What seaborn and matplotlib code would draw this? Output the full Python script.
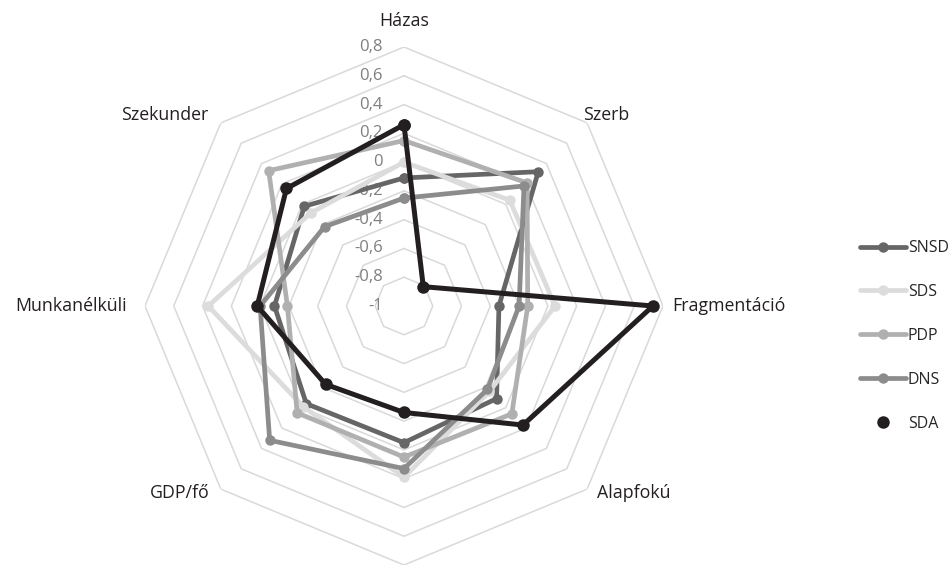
import numpy as np
import pandas as pd
import matplotlib
matplotlib.use("Agg")
import matplotlib.pyplot as plt
import seaborn as sns
from matplotlib.lines import Line2D

# axes of the radar (clockwise from the top); the bottom label is cut off in the source
categories = ["Házas", "Szerb", "Fragmentáció", "Alapfokú", "", "GDP/fő", "Munkanélküli", "Szekunder"]

snsd = [-0.11, 0.32, -0.34, -0.09, -0.05, -0.04, -0.10, -0.02]
sds = [0.00, 0.04, 0.05, -0.16, 0.19, -0.01, 0.36, -0.085]
pdp = [0.15, 0.21, -0.14, 0.06, 0.05, 0.05, -0.19, 0.33]
dns = [-0.25, 0.18, -0.20, -0.18, 0.13, 0.32, 0.00, -0.22]
sda = [0.26, -0.81, 0.73, 0.17, -0.26, -0.23, 0.02, 0.155]

parties = ["SNSD", "SDS", "PDP", "DNS", "SDA"]
colors = {"SNSD": "#666666", "SDS": "#dcdcdc", "PDP": "#b0b0b0", "DNS": "#8c8c8c", "SDA": "#231f20"}

ring_values = [-1, -0.8, -0.6, -0.4, -0.2, 0, 0.2, 0.4, 0.6, 0.8]
ring_labels = ["-1", "-0,8", "-0,6", "-0,4", "-0,2", "0", "0,2", "0,4", "0,6", "0,8"]

sns.set_style("white")
plt.rcParams["font.family"] = ["Open Sans", "DejaVu Sans"]

n = len(categories)
angles = np.arange(n + 1) * 2 * np.pi / n

rows = []
for name, vals in zip(parties, [snsd, sds, pdp, dns, sda]):
    closed = list(vals) + [vals[0]]
    for i in range(n + 1):
        rows.append({"party": name, "theta": angles[i], "value": closed[i], "step": i})
df = pd.DataFrame(rows)

fig = plt.figure(figsize=(9.53, 5.65), dpi=100)
ax = fig.add_axes([0.1521, 0.0, 0.5436, 0.9168], projection="polar")
ax.set_theta_offset(np.pi / 2)
ax.set_theta_direction(-1)
ax.grid(False)
ax.spines["polar"].set_visible(False)

# octagonal grid rings
for lvl in ring_values[1:]:
    ax.plot(angles, [lvl] * (n + 1), color="#d9d9d9", lw=1.1, zorder=1)

grey = df[df.party != "SDA"]
sns.lineplot(data=grey, x="theta", y="value", hue="party", hue_order=parties[:4],
             palette=colors, sort=False, estimator=None, units="party",
             marker="o", markersize=7.5, markeredgewidth=0, linewidth=3.4,
             legend=False, ax=ax, zorder=3)
sns.lineplot(data=df[df.party == "SDA"], x="theta", y="value", color=colors["SDA"],
             sort=False, estimator=None, marker="o", markersize=9,
             markeredgewidth=0, linewidth=3.6, legend=False, ax=ax, zorder=4)

ax.set_ylim(-1, 0.8)
ax.set_xticks([])
ax.set_yticks([])
ax.set_xlabel("")
ax.set_ylabel("")

# ring value labels, left of the top spoke
for v, lab in zip(ring_values, ring_labels):
    ax.annotate(lab, xy=(0, v), xytext=(-21, 0), textcoords="offset pixels",
                ha="right", va="center", fontsize=12, color="#7f7f7f", zorder=2)

# category labels around the outer ring
offsets = [(0, 26, "center"), (19, 8, "center"), (9, 0, "left"), (10, -4, "left"),
           (0, -26, "center"), (-11, -4, "right"), (-18, 0, "right"), (-13, 8, "right")]
for i, lab in enumerate(categories):
    dx, dy, ha = offsets[i]
    ax.annotate(lab, xy=(angles[i], 0.8), xytext=(dx, dy), textcoords="offset pixels",
                ha=ha, va="center", fontsize=12.8, color="#231f20", annotation_clip=False)

handles = [Line2D([], [], color=colors[p], lw=3.4, marker="o", markersize=7.5, markeredgewidth=0)
           for p in parties[:4]]
handles.append(Line2D([], [], color=colors["SDA"], lw=0, marker="o", markersize=9, markeredgewidth=0))
fig.legend(handles, parties, loc="center left", bbox_to_anchor=(860 / 953, 1 - 336 / 565),
           frameon=False, fontsize=11.5, handlelength=2.85, handletextpad=0.15,
           labelspacing=1.75, borderpad=0, borderaxespad=0)

fig.savefig("out.png", dpi=100)
